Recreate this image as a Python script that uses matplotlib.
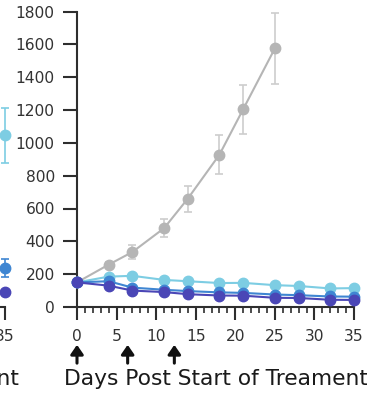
import matplotlib
matplotlib.use("Agg")
import matplotlib.pyplot as plt
from matplotlib.ticker import MultipleLocator

plt.rcParams['font.family'] = ['DejaVu Sans']

# --- data -------------------------------------------------------------
days = [0, 4, 7, 11, 14, 18, 21, 25, 28, 32, 35]

vehicle_days = [0, 4, 7, 11, 14, 18, 21, 25]
vehicle = [150, 258, 335, 480, 660, 928, 1205, 1575]
vehicle_err = [10, 18, 40, 55, 80, 120, 150, 215]

low_dose = [150, 185, 190, 165, 157, 146, 147, 133, 128, 113, 115]
low_dose_err = [8, 12, 14, 12, 10, 10, 10, 9, 9, 8, 8]
mid_dose = [150, 157, 118, 105, 97, 89, 86, 76, 72, 64, 63]
mid_dose_err = [8, 10, 9, 8, 7, 7, 6, 6, 6, 5, 5]
high_dose = [150, 130, 100, 91, 78, 70, 69, 56, 55, 44, 43]
high_dose_err = [8, 9, 8, 7, 6, 6, 5, 5, 5, 4, 4]

# neighbouring panel, last time point
prev_days = [35]
prev_low = [1045]
prev_low_err = [165]
prev_mid = [235]
prev_mid_err = [55]
prev_high = [93]
prev_high_err = [12]

dosing_days = [0, 6.4, 12.3]
y_ticks = [0, 200, 400, 600, 800, 1000, 1200, 1400, 1600, 1800]
x_ticks = [0, 5, 10, 15, 20, 25, 30, 35]
xlabel = "Days Post Start of Treament"

# --- styling ----------------------------------------------------------
C_GRAY = "#b5b5b5"
C_GRAY_ERR = "#cdcdcd"
C_CYAN = "#7dcde3"
C_BLUE = "#3f86d2"
C_INDIGO = "#4a46b6"
AX_COL = "#2e2e2e"

W, H = 367, 397
fig = plt.figure(figsize=(W / 100, H / 100), dpi=100)

ax_w = 277 / W
ax_h = 295.5 / H
ax_b = (H - 307) / H
ax = fig.add_axes([77 / W, ax_b, ax_w, ax_h])
ax_prev = fig.add_axes([(77 - 349) / W, ax_b, ax_w, ax_h])


def style(a):
    a.set_xlim(0, 35)
    a.set_ylim(0, 1800)
    for s in ("top", "right"):
        a.spines[s].set_visible(False)
    for s in ("left", "bottom"):
        a.spines[s].set_color(AX_COL)
        a.spines[s].set_linewidth(1.5)
    a.spines['bottom'].set_bounds(0, 35)
    a.set_yticks(y_ticks)
    a.set_xticks(x_ticks)
    a.xaxis.set_minor_locator(MultipleLocator(1))
    a.tick_params(axis='y', which='major', length=10, width=1.5,
                  color=AX_COL, labelsize=11.2, labelcolor="#333333", pad=6)
    a.tick_params(axis='x', which='major', length=9.5, width=1.5,
                  color=AX_COL, labelsize=11.2, labelcolor="#333333", pad=6)
    a.tick_params(axis='x', which='minor', length=4.5, width=1.2,
                  color=AX_COL)
    a.set_xlabel(xlabel, fontsize=15.7, color="#1a1a1a", labelpad=18)
    a.patch.set_visible(False)
    for d in dosing_days:
        a.annotate("", xy=(d, -0.128), xytext=(d, -0.19),
                   xycoords=('data', 'axes fraction'),
                   textcoords=('data', 'axes fraction'),
                   arrowprops=dict(arrowstyle="-|>,head_length=0.55,head_width=0.38",
                                   color="#111111", lw=2.2,
                                   shrinkA=0, shrinkB=0),
                   annotation_clip=False)


def series(a, x, y, err, color, ecolor=None, z=3):
    a.errorbar(x, y, yerr=err, color=color, ecolor=ecolor or color,
               elinewidth=1.2, capsize=3, capthick=1.2,
               marker='o', markersize=7.5, lw=1.5, zorder=z, clip_on=False)


style(ax)
style(ax_prev)

series(ax, vehicle_days, vehicle, vehicle_err, C_GRAY, C_GRAY_ERR, z=2)
series(ax, days, low_dose, low_dose_err, C_CYAN, z=3)
series(ax, days, mid_dose, mid_dose_err, C_BLUE, z=4)
series(ax, days, high_dose, high_dose_err, C_INDIGO, z=5)

series(ax_prev, prev_days, prev_low, prev_low_err, C_CYAN, z=3)
series(ax_prev, prev_days, prev_mid, prev_mid_err, C_BLUE, z=4)
series(ax_prev, prev_days, prev_high, prev_high_err, C_INDIGO, z=5)

fig.savefig("out.png", dpi=100)
